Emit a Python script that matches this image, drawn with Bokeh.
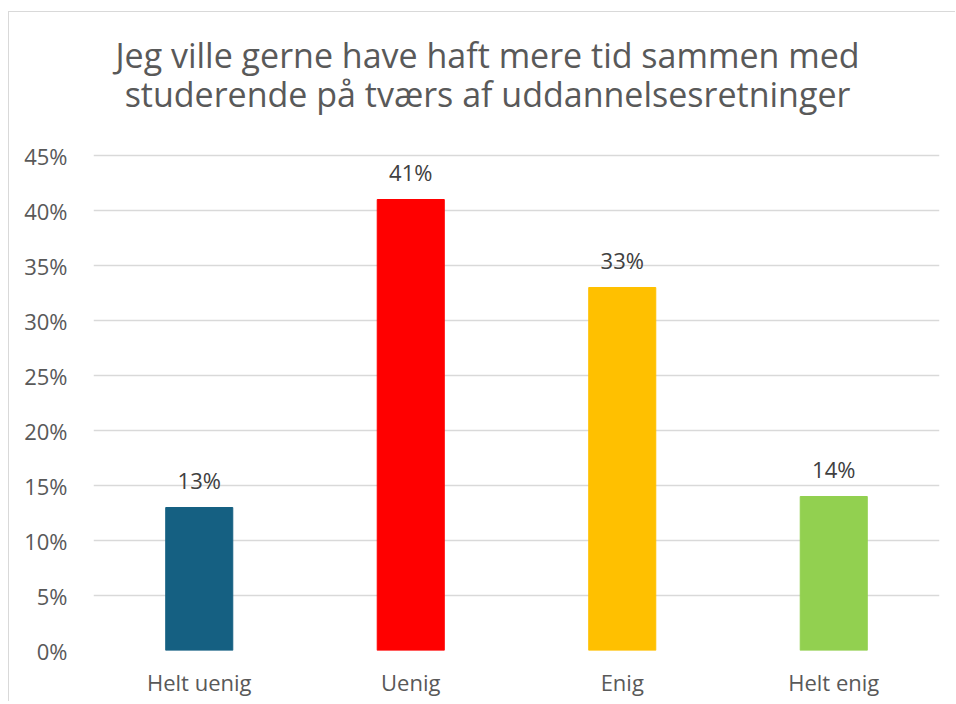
from bokeh.plotting import figure
from bokeh.models import ColumnDataSource, LabelSet, Label, Range1d, NumeralTickFormatter, FixedTicker
from bokeh.core.properties import value
from bokeh.embed import file_html
from bokeh.resources import INLINE

categories = ["Helt uenig", "Uenig", "Enig", "Helt enig"]
values = [0.13, 0.41, 0.33, 0.14]
bar_labels = ["13%", "41%", "33%", "14%"]
colors = ["#156082", "#FF0000", "#FFC000", "#92D050"]
y_ticks = [0.0, 0.05, 0.10, 0.15, 0.20, 0.25, 0.30, 0.35, 0.40, 0.45]
title_lines = ["Jeg ville gerne have haft mere tid sammen med",
               "studerende på tværs af uddannelsesretninger"]

FONT = "Open Sans"
TXT = "#595959"

src = ColumnDataSource(dict(cat=categories, val=values, lab=bar_labels, col=colors))

W, H = 947, 690
ML, MR, MT, MB = 84, 17, 0, 52
# frame spans the full height so the title can sit inside it; 0% at page y=650, 11 px per percent
p = figure(x_range=categories, y_range=Range1d(0, 0.58), width=W, height=H,
           output_backend="svg", toolbar_location=None,
           min_border_left=ML, min_border_right=MR, min_border_top=MT, min_border_bottom=MB)
p.margin = (11, 0, 0, 8)
p.styles = {"border-top": "1px solid #d9d9d9", "border-left": "1px solid #d9d9d9"}

p.vbar(x="cat", top="val", width=0.317, color="col", source=src)

p.add_layout(LabelSet(x="cat", y="val", text="lab", source=src, y_offset=19,
                      text_align="center", text_baseline="alphabetic",
                      text_font=value(FONT), text_font_size="22px", text_color="#404040"))

for t, yv in zip(title_lines, [0.541, 0.506]):
    p.add_layout(Label(x=487 - 93, y=yv, x_units="screen", y_units="data", text=t,
                       text_align="center", text_baseline="alphabetic",
                       text_font=FONT, text_font_size="34px", text_color=TXT))

p.outline_line_color = None
p.xgrid.grid_line_color = None
p.ygrid.grid_line_color = "#d9d9d9"
p.ygrid.grid_line_width = 1.5
p.yaxis.ticker = FixedTicker(ticks=y_ticks)
p.yaxis.formatter = NumeralTickFormatter(format="0%")
for ax in (p.xaxis, p.yaxis):
    ax.axis_line_color = None
    ax.major_tick_line_color = None
    ax.minor_tick_line_color = None
    ax.major_label_text_font = FONT
    ax.major_label_text_font_size = "22px"
    ax.major_label_text_color = TXT
p.yaxis.major_label_standoff = 20
p.xaxis.major_label_standoff = 10

open("out.html", "w").write(file_html(p, INLINE))
